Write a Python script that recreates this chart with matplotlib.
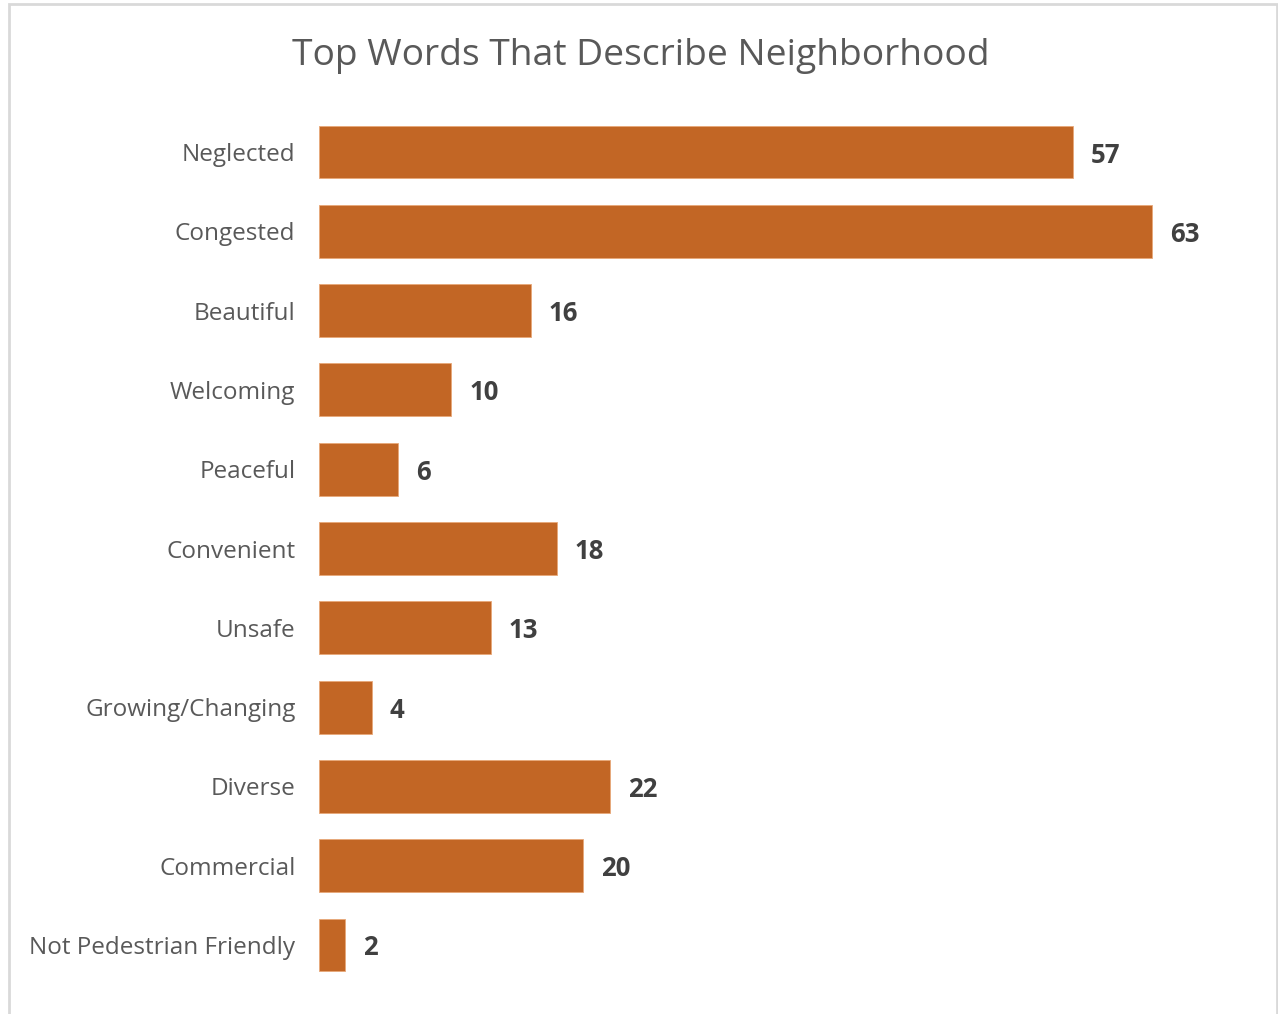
import matplotlib.pyplot as plt
from matplotlib.patches import Rectangle

# data
words = ['Neglected', 'Congested', 'Beautiful', 'Welcoming', 'Peaceful', 'Convenient',
         'Unsafe', 'Growing/Changing', 'Diverse', 'Commercial', 'Not Pedestrian Friendly']
counts = [57, 63, 16, 10, 6, 18, 13, 4, 22, 20, 2]

plt.rcParams['font.family'] = ['Open Sans', 'DejaVu Sans']

W, H = 1278, 1014
fig = plt.figure(figsize=(W / 100, H / 100), dpi=100)

# light grey frame around the chart
fig.patches.append(Rectangle((9 / W, -0.05), (1277 - 9) / W, 1.05 - 4 / H,
                             transform=fig.transFigure, fill=False,
                             edgecolor='#D9D9D9', linewidth=2))

# axes placed so bars start at x=319, 13.22 px per unit
left, right = 319, 319 + 70 * 13.22
top, bottom = 112.4, 984.6
ax = fig.add_axes([left / W, 1 - bottom / H, (right - left) / W, (bottom - top) / H])

y = range(len(words))
ax.barh(y, counts, height=0.667, color='#C26625', edgecolor='#E8A878', linewidth=0.6)
ax.set_xlim(0, 70)
ax.set_ylim(len(words) - 0.5, -0.5)

for yi, v in zip(y, counts):
    ax.text(v + 1.35, yi, str(v), va='center_baseline', ha='left', fontsize=18.5,
            fontweight='bold', color='#404040')

ax.set_yticks(list(y))
ax.set_yticklabels(words, fontsize=17.5, color='#595959')
ax.tick_params(axis='y', length=0, pad=17)
ax.set_xticks([])
for s in ax.spines.values():
    s.set_visible(False)

fig.text(641 / W, 1 - 56 / H, 'Top Words That Describe Neighborhood', ha='center', va='center',
         fontsize=26.8, color='#595959')

fig.savefig('out.png', dpi=100)
